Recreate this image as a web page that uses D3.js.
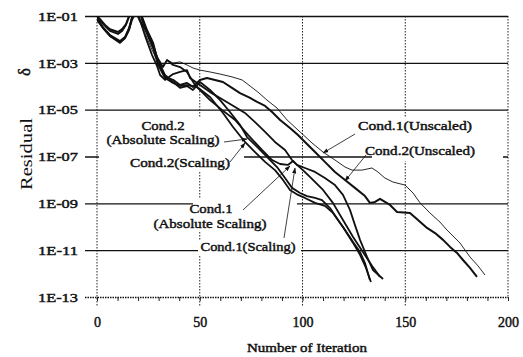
<!DOCTYPE html>
<html>
<head>
<meta charset="utf-8">
<script src="https://cdn.jsdelivr.net/npm/d3@7"></script>
<style>
  body { margin: 0; background: #fff; }
  text { font-family: "Liberation Serif", "Times New Roman", serif; fill: #111; }
  .boldish { stroke: #111; stroke-width: 0.45px; }
</style>
</head>
<body>
<div class="chart"></div>
<script>
var svgWidth = 523;
var svgHeight = 357;

// plot frame (pixels)
var plotLeft = 97, plotRight = 508, plotTop = 16, plotBottom = 297;

// Data: [iteration, log10(residual)]
var cond1Unscaled = [[0,-1.00],[1.9,-1.17],[3.9,-1.38],[6.3,-1.60],[10.2,-1.73],[12.2,-1.60],[14.1,-1.34],[15.6,-1.00],[16.5,-0.66],[18.0,-0.66],[19.5,-0.91],[20.4,-1.17],[23.4,-1.73],[26.8,-2.45],[29.2,-2.88],[32.1,-3.13],[34.1,-2.88],[37.0,-3.01],[40.4,-2.96],[43.8,-3.09],[46.7,-3.22],[50.1,-3.31],[55.0,-3.39],[59.9,-3.48],[65.7,-3.60],[70.6,-3.73],[74.5,-3.99],[78.3,-4.25],[82.7,-4.59],[87.6,-4.93],[92.5,-5.44],[98.8,-5.95],[104.6,-6.42],[110.0,-6.81],[115.8,-7.15],[120.7,-7.45],[124.1,-7.58],[129.0,-7.58],[133.8,-7.49],[136.7,-7.66],[140.1,-7.92],[144.0,-8.09],[149.9,-8.22],[153.8,-8.56],[157.2,-8.98],[162.0,-9.41],[166.9,-9.80],[170.3,-10.14],[176.6,-10.69],[181.5,-11.29],[185.4,-11.67],[188.8,-12.06]];

var cond2Unscaled = [[0,-1.09],[2.9,-1.51],[6.3,-1.85],[11.2,-2.11],[13.6,-1.94],[15.6,-1.56],[17.0,-1.09],[18.0,-0.83],[19.5,-0.66],[20.9,-0.74],[21.9,-1.04],[24.3,-1.60],[27.3,-2.15],[29.7,-2.96],[33.1,-3.60],[37.0,-3.73],[40.4,-3.95],[43.8,-3.86],[46.7,-4.03],[50.1,-3.73],[53.5,-3.65],[57.4,-3.73],[61.3,-3.82],[65.7,-4.07],[69.6,-4.29],[74.5,-4.50],[77.9,-4.67],[81.8,-4.84],[85.2,-5.10],[89.1,-5.44],[93.9,-5.78],[97.8,-6.08],[101.2,-6.38],[106.1,-6.81],[110.9,-7.23],[115.8,-7.66],[120.7,-8.00],[125.5,-8.34],[130.4,-8.69],[132.8,-8.98],[135.3,-8.94],[137.7,-8.81],[142.6,-9.07],[146.0,-9.37],[152.3,-9.41],[156.2,-9.71],[160.6,-10.05],[164.5,-10.27],[168.4,-10.56],[171.8,-10.86],[175.2,-11.12],[178.1,-11.42],[181.5,-11.76],[184.9,-12.14]];

var cond1Absolute = [[0,-1.00],[1.9,-1.17],[3.9,-1.38],[6.3,-1.56],[10.2,-1.68],[12.2,-1.56],[14.1,-1.34],[15.6,-1.00],[16.5,-0.74],[18.0,-0.66],[19.5,-0.83],[20.9,-1.17],[23.4,-1.85],[26.8,-2.67],[29.2,-3.13],[30.7,-3.52],[33.1,-3.73],[37.0,-3.48],[40.4,-3.39],[43.8,-3.31],[45.3,-3.65],[50.1,-3.95],[55.0,-4.25],[59.9,-4.50],[67.2,-4.89],[72.0,-5.14],[76.9,-5.53],[81.8,-5.95],[86.6,-6.38],[91.5,-6.72],[94.9,-7.15],[97.3,-7.36],[101.2,-7.49],[106.1,-7.66],[110.9,-7.92],[115.8,-8.22],[119.7,-8.64],[123.1,-9.28],[125.5,-9.92],[128.0,-10.56],[131.4,-11.29],[134.3,-11.85],[139.2,-12.23]];

var cond1Scaling = [[0,-1.04],[2.9,-1.34],[6.3,-1.64],[10.2,-1.77],[12.2,-1.64],[14.1,-1.38],[15.6,-1.04],[16.5,-0.83],[18.5,-0.70],[20.0,-1.04],[24.3,-1.73],[29.2,-2.75],[32.1,-3.18],[34.1,-2.88],[37.0,-3.09],[40.4,-3.18],[43.8,-3.39],[47.7,-3.95],[55.0,-4.59],[60.8,-5.01],[67.2,-5.44],[73.5,-6.08],[80.3,-6.72],[85.2,-7.15],[89.1,-7.32],[92.9,-7.36],[95.4,-7.19],[97.3,-7.36],[100.2,-7.58],[103.6,-7.87],[110.0,-8.43],[114.8,-8.98],[119.7,-9.71],[124.6,-10.44],[129.4,-11.08],[133.8,-11.67],[137.7,-12.14]];

var cond2Absolute = [[0,-1.13],[2.9,-1.47],[6.3,-1.81],[11.2,-2.07],[13.6,-1.90],[15.6,-1.51],[17.0,-1.09],[18.5,-0.74],[20.4,-0.70],[21.9,-1.09],[24.3,-1.68],[27.3,-2.24],[29.7,-2.88],[33.1,-3.52],[37.0,-3.82],[40.4,-4.07],[43.8,-3.99],[46.7,-4.16],[50.1,-3.82],[55.0,-4.16],[59.9,-4.59],[64.7,-5.10],[69.6,-5.65],[73.0,-6.17],[77.9,-6.59],[82.7,-7.02],[87.6,-7.45],[91.5,-7.92],[94.9,-8.34],[98.8,-8.56],[102.2,-8.69],[106.1,-8.77],[109.5,-8.86],[113.4,-9.20],[117.3,-9.71],[120.7,-10.14],[124.6,-10.65],[128.0,-11.08],[130.4,-11.55],[132.8,-12.27]];

var cond2Scaling = [[0,-1.17],[2.9,-1.51],[6.3,-1.85],[11.2,-2.15],[13.6,-1.94],[15.6,-1.60],[17.0,-1.17],[19.0,-0.83],[20.9,-0.83],[21.9,-1.17],[24.3,-1.73],[27.3,-2.37],[29.7,-3.09],[33.1,-3.65],[37.0,-3.86],[40.4,-3.99],[43.8,-3.95],[48.7,-4.03],[55.0,-4.46],[61.3,-5.14],[66.2,-5.74],[72.0,-6.38],[76.9,-6.81],[81.8,-7.23],[86.6,-7.58],[90.5,-8.00],[93.9,-8.43],[97.8,-8.64],[101.2,-8.77],[106.1,-8.98],[110.9,-9.11],[114.8,-9.41],[119.7,-10.01],[124.6,-10.69],[128.0,-11.20],[130.9,-11.76],[133.3,-12.36]];

var series = [
  { name: "Cond.1(Unscaled)", values: cond1Unscaled, width: 0.9 },
  { name: "Cond.2(Unscaled)", values: cond2Unscaled, width: 2 },
  { name: "Cond.1 (Absolute Scaling)", values: cond1Absolute, width: 1.8 },
  { name: "Cond.1(Scaling)", values: cond1Scaling, width: 1.8 },
  { name: "Cond.2 (Absolute Scaling)", values: cond2Absolute, width: 1.8 },
  { name: "Cond.2(Scaling)", values: cond2Scaling, width: 1.8 }
];

var yTicks = [1e-1, 1e-3, 1e-5, 1e-7, 1e-9, 1e-11, 1e-13];
var yTickLabels = ["1E-01", "1E-03", "1E-05", "1E-07", "1E-09", "1E-11", "1E-13"];
var xMinorTicks = d3.range(0, 201, 10);
var xTicks = [0, 50, 100, 150, 200];

var svg = d3.select(".chart")
  .append("svg")
  .attr("width", svgWidth)
  .attr("height", svgHeight);

var x = d3.scaleLinear().domain([0, 200]).range([plotLeft, plotRight]);
var y = d3.scaleLog().domain([1e-13, 1e-1]).range([plotBottom, plotTop]);

var defs = svg.append("defs");
defs.append("clipPath").attr("id", "plot")
  .append("rect").attr("x", plotLeft).attr("y", plotTop)
  .attr("width", plotRight - plotLeft).attr("height", plotBottom - plotTop);

defs.append("marker")
  .attr("id", "arrow").attr("viewBox", "0 0 10 10").attr("refX", 9).attr("refY", 5)
  .attr("markerWidth", 6).attr("markerHeight", 6).attr("orient", "auto")
  .attr("markerUnits", "userSpaceOnUse")
  .append("path").attr("d", "M0,1.5L10,5L0,8.5z").attr("fill", "#111");

// vertical dotted grid lines and left / right frame
svg.append("g").selectAll("line")
  .data(xTicks)
  .enter()
  .append("line")
  .attr("x1", d => x(d)).attr("x2", d => x(d))
  .attr("y1", plotTop).attr("y2", d => d === 200 ? plotBottom : plotBottom + 10)
  .attr("stroke", "#222")
  .attr("stroke-width", 1)
  .attr("stroke-dasharray", "1.5,1.5");

// horizontal grid lines with tick labels
var yAxis = d3.axisLeft(y)
  .tickValues(yTicks)
  .tickFormat((d, i) => yTickLabels[i])
  .tickSizeInner(-(plotRight - 85))
  .tickSizeOuter(0)
  .tickPadding(7);

var yAxisG = svg.append("g")
  .attr("transform", "translate(85,0)")
  .call(yAxis);
yAxisG.select(".domain").remove();
yAxisG.selectAll(".tick line")
  .attr("stroke", "#111")
  .attr("stroke-width", 1.3)
  .attr("stroke-dasharray", d => d === 1e-13 ? "1.5,1" : null);
yAxisG.selectAll(".tick text")
  .attr("class", "boldish")
  .attr("font-family", "Liberation Serif")
  .attr("font-size", 13)
  .attr("textLength", 40)
  .attr("lengthAdjust", "spacingAndGlyphs");

// bottom axis: small ticks every 10 iterations
var xAxis = d3.axisBottom(x)
  .tickValues(xMinorTicks)
  .tickFormat(d => xTicks.indexOf(d) >= 0 ? d : "")
  .tickSizeInner(4)
  .tickSizeOuter(0)
  .tickPadding(16);

var xAxisG = svg.append("g")
  .attr("transform", `translate(0,${plotBottom})`)
  .call(xAxis);
xAxisG.select(".domain").remove();
xAxisG.selectAll(".tick line").attr("stroke", "#222");
xAxisG.selectAll(".tick text")
  .attr("class", "boldish")
  .attr("font-family", "Liberation Serif")
  .attr("font-size", 14);

// white boxes behind the annotations (they hide the grid in the original)
var boxes = [
  [99, 118, 145, 54],
  [372, 117, 131, 44],
  [193, 199, 104, 33],
  [198, 240, 103, 16]
];
svg.append("g").selectAll("rect")
  .data(boxes)
  .enter()
  .append("rect")
  .attr("x", d => d[0]).attr("y", d => d[1])
  .attr("width", d => d[2]).attr("height", d => d[3])
  .attr("fill", "#fff");

// curves
var line = d3.line()
  .x(d => x(d[0]))
  .y(d => y(Math.pow(10, d[1])));

svg.append("g")
  .attr("clip-path", "url(#plot)")
  .selectAll("path")
  .data(series)
  .enter()
  .append("path")
  .attr("d", d => line(d.values))
  .attr("fill", "none")
  .attr("stroke", "#111")
  .attr("stroke-width", d => d.width)
  .attr("stroke-linejoin", "round");

// annotations
var labels = [
  ["Cond.2", 163, 130],
  ["(Absolute Scaling)", 163, 144],
  ["Cond.2(Scaling)", 180, 167],
  ["Cond.1(Unscaled)", 415, 130],
  ["Cond.2(Unscaled)", 420, 155],
  ["Cond.1", 211, 213],
  ["(Absolute Scaling)", 210, 228],
  ["Cond.1(Scaling)", 248, 251]
];
var labelWidths = [43, 113, 100, 114, 110, 43, 113, 95];

svg.append("g").selectAll("text")
  .data(labels)
  .enter()
  .append("text")
  .attr("class", "boldish")
  .attr("x", d => d[1])
  .attr("y", d => d[2])
  .attr("text-anchor", "middle")
  .attr("font-size", 13)
  .attr("textLength", (d, i) => labelWidths[i])
  .attr("lengthAdjust", "spacingAndGlyphs")
  .text(d => d[0]);

var arrows = [
  [224, 142, 247, 139],
  [230, 162, 245, 143],
  [355, 134, 323, 153],
  [366, 155, 345, 181],
  [243, 210, 290, 166],
  [284, 238, 295, 168]
];
svg.append("g").selectAll("line")
  .data(arrows)
  .enter()
  .append("line")
  .attr("x1", d => d[0]).attr("y1", d => d[1])
  .attr("x2", d => d[2]).attr("y2", d => d[3])
  .attr("stroke", "#111")
  .attr("stroke-width", 0.8)
  .attr("marker-end", "url(#arrow)");

// axis titles
svg.append("text")
  .attr("transform", "translate(32,154) rotate(-90)")
  .attr("text-anchor", "middle")
  .attr("font-size", 17)
  .attr("textLength", 72)
  .attr("lengthAdjust", "spacingAndGlyphs")
  .text("Residual");

svg.append("text")
  .attr("class", "boldish")
  .attr("transform", "translate(30,72) rotate(-90)")
  .attr("text-anchor", "middle")
  .attr("font-size", 17)
  .text("δ");

svg.append("text")
  .attr("class", "boldish")
  .attr("x", 307)
  .attr("y", 352)
  .attr("text-anchor", "middle")
  .attr("font-size", 13)
  .attr("textLength", 120)
  .attr("lengthAdjust", "spacingAndGlyphs")
  .text("Number of Iteration");
</script>
</body>
</html>
